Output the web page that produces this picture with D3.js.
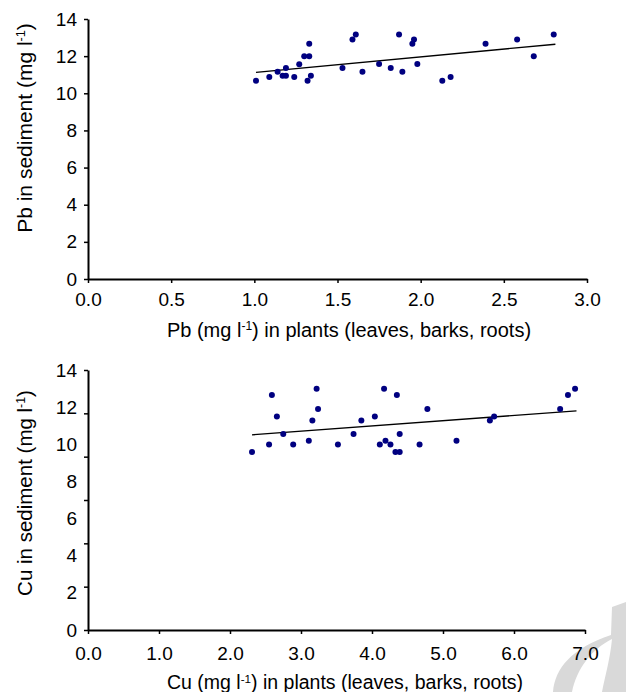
<!DOCTYPE html>
<html lang="en">
<head>
<meta charset="utf-8">
<title>Pb / Cu plants vs sediment</title>
<script src="https://d3js.org/d3.v7.min.js"></script>
<style>
  body { margin: 0; background: #fff; }
  svg { display: block; font-family: "Liberation Sans", Arial, sans-serif; }
  .domain { stroke: #000; stroke-width: 2; }
  .tick line { stroke: #000; stroke-width: 1.5; }
  .tick text { fill: #000; }
</style>
</head>
<body>
<script>
// --- data ---
const pbPlant = [1.01,1.09,1.14,1.19,1.17,1.19,1.24,1.27,1.30,1.33,1.33,1.32,1.34,1.53,1.59,1.61,1.65,1.75,1.82,1.87,1.89,1.95,1.96,1.98,2.13,2.18,2.39,2.58,2.68,2.80];
const pbSed   = [10.68,10.88,11.16,11.36,10.95,10.95,10.88,11.56,11.99,11.99,12.67,10.68,10.95,11.36,12.89,13.16,11.16,11.58,11.36,13.16,11.16,12.67,12.89,11.58,10.68,10.88,12.67,12.89,11.99,13.16];
const pbFitX = [1.01, 2.81];
const pbFitY = [11.13, 12.64];

const cuPlant = [2.31,2.55,2.59,2.66,2.75,2.89,3.11,3.16,3.22,3.24,3.52,3.74,3.85,4.04,4.11,4.17,4.19,4.26,4.35,4.33,4.39,4.39,4.67,4.78,5.19,5.66,5.72,6.65,6.76,6.86];
const cuSed   = [9.58,9.99,12.65,11.49,10.55,9.99,10.19,11.28,12.99,11.90,9.99,10.55,11.28,11.49,9.99,12.99,10.19,9.99,12.65,9.58,9.58,10.55,9.99,11.90,10.19,11.28,11.49,11.90,12.65,12.99];
const cuFitX = [2.31, 6.88];
const cuFitY = [10.51, 11.80];

const yTicks = [0, 2, 4, 6, 8, 10, 12, 14];
const pbXTicks = [0, 0.5, 1, 1.5, 2, 2.5, 3];
const cuXTicks = [0, 1, 2, 3, 4, 5, 6, 7];
// the Cu panel's y tick marks sit on sixths, not on the labels
const cuYMarks = d3.range(7).map(i => i * 14 / 6);

const w = 626, h = 692;
const svg = d3.select("body").append("svg").attr("width", w).attr("height", h);

// faint watermark corner
svg.append("path")
  .attr("d", "M553,692 C555,668 572,648 611,635 L612,607 L626,602 L626,692 Z")
  .attr("fill", "#d9d9d9");
svg.append("path")
  .attr("d", "M572,692 C577,668 592,649 612,639 C610,660 605,676 602,692 Z")
  .attr("fill", "#fff");

function panel(cfg) {
  const x = d3.scaleLinear().domain(cfg.xDomain).range([cfg.left, cfg.right]);
  const y = d3.scaleLinear().domain([0, 14]).range([cfg.bottom, cfg.top]);
  const g = svg.append("g");

  g.append("g")
    .attr("transform", `translate(0,${cfg.bottom})`)
    .call(d3.axisBottom(x).tickValues(cfg.xTicks).tickFormat(d3.format(".1f"))
      .tickSize(4).tickSizeOuter(0).tickPadding(cfg.xPad))
    .call(a => a.selectAll("text").attr("font-size", 19));

  if (cfg.yMarks) {
    g.append("g")
      .attr("transform", `translate(${cfg.left},0)`)
      .call(d3.axisLeft(y).tickValues(cfg.yMarks).tickFormat("")
        .tickSize(4).tickSizeOuter(0));
    g.append("g")
      .attr("transform", `translate(${cfg.left},0)`)
      .call(d3.axisLeft(y).tickValues(yTicks).tickFormat(d3.format("d"))
        .tickSize(0).tickSizeOuter(0).tickPadding(11))
      .call(a => a.select(".domain").remove())
      .call(a => a.selectAll("text").attr("font-size", 19));
  } else {
    g.append("g")
      .attr("transform", `translate(${cfg.left},0)`)
      .call(d3.axisLeft(y).tickValues(yTicks).tickFormat(d3.format("d"))
        .tickSize(4).tickSizeOuter(0).tickPadding(7))
      .call(a => a.selectAll("text").attr("font-size", 19));
  }

  g.append("line")
    .attr("x1", x(cfg.fitX[0])).attr("y1", y(cfg.fitY[0]))
    .attr("x2", x(cfg.fitX[1])).attr("y2", y(cfg.fitY[1]))
    .attr("stroke", "#000").attr("stroke-width", 1.3);

  g.selectAll("circle")
    .data(d3.zip(cfg.xs, cfg.ys))
    .join("circle")
    .attr("cx", d => x(d[0]))
    .attr("cy", d => y(d[1]))
    .attr("r", 3)
    .attr("fill", "#000080");

  // x title
  const xt = g.append("text")
    .attr("x", cfg.xTitleX).attr("y", cfg.xTitleY)
    .attr("text-anchor", "middle").attr("font-size", cfg.titleFont);
  xt.append("tspan").text(cfg.el + " (mg l");
  xt.append("tspan").attr("baseline-shift", "super").attr("font-size", "60%").text("-1");
  xt.append("tspan").text(") in plants (leaves, barks, roots)");

  // y title
  const yt = g.append("text")
    .attr("transform", `translate(32,${cfg.yTitleY}) rotate(-90)`)
    .attr("text-anchor", "middle").attr("font-size", cfg.yTitleFont);
  yt.append("tspan").text(cfg.el + " in sediment (mg l");
  yt.append("tspan").attr("baseline-shift", "super").attr("font-size", "60%").text("-1");
  yt.append("tspan").text(")");
}

panel({
  el: "Pb", xs: pbPlant, ys: pbSed, fitX: pbFitX, fitY: pbFitY,
  xDomain: [0, 3], xTicks: pbXTicks, xPad: 10,
  left: 88, right: 587, top: 19, bottom: 279,
  titleFont: 20, yTitleFont: 21,
  xTitleX: 349, xTitleY: 337, yTitleY: 128
});

panel({
  el: "Cu", xs: cuPlant, ys: cuSed, fitX: cuFitX, fitY: cuFitY,
  xDomain: [0, 7], xTicks: cuXTicks, xPad: 13, yMarks: cuYMarks,
  left: 88, right: 585, top: 370, bottom: 630,
  titleFont: 19.5, yTitleFont: 20.5,
  xTitleX: 345, xTitleY: 689, yTitleY: 493
});
</script>
</body>
</html>
